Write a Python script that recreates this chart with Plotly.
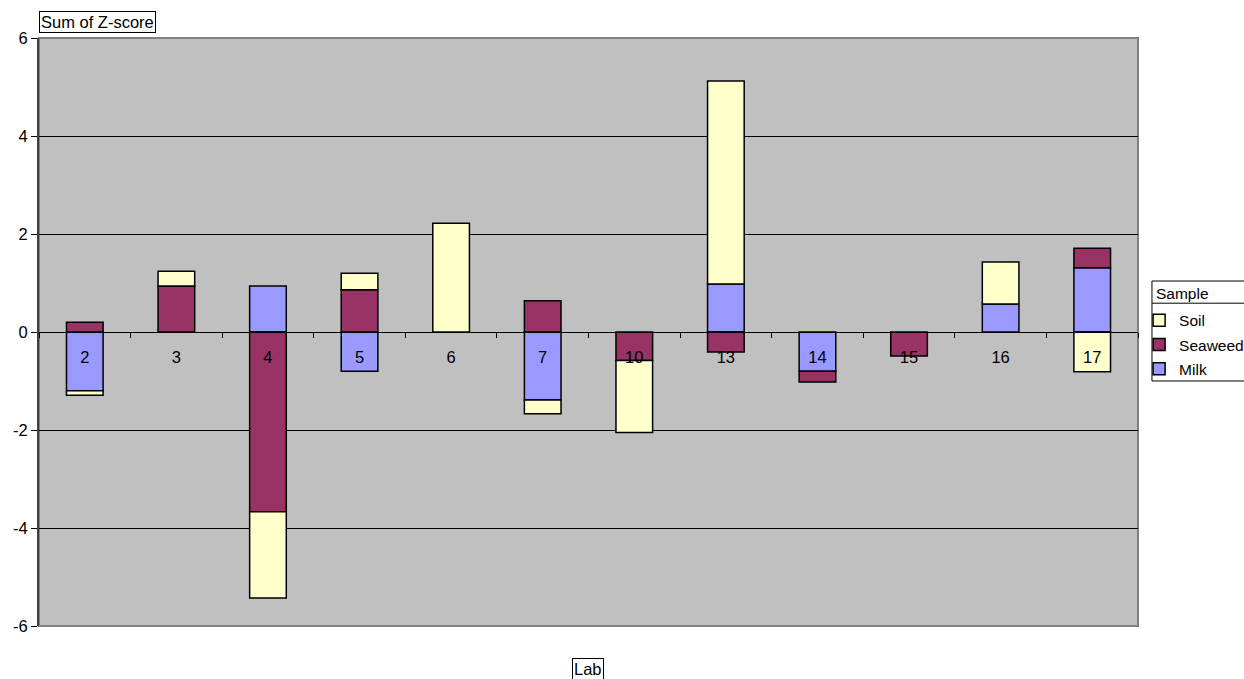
import plotly.graph_objects as go

# Sum of Z-scores per lab, split by sample type
labs = ["2", "3", "4", "5", "6", "7", "10", "13", "14", "15", "16", "17"]
milk = [-1.20, None, 0.94, -0.80, None, -1.39, None, 0.98, -0.80, None, 0.57, 1.31]
seaweed = [0.20, 0.94, -3.67, 0.86, None, 0.64, -0.58, -0.41, -0.22, -0.49, None, 0.40]
soil = [-0.09, 0.30, -1.76, 0.34, 2.22, -0.28, -1.47, 4.14, None, None, 0.86, -0.81]

y_ticks = [-6, -4, -2, 0, 2, 4, 6]
y_tick_text = ["-6", "-4", "-2", "0", "2", "4", "6"]

# (name, values, colour, legend rank) - stacked bottom-up, listed top-down
series = [
    ("Milk", milk, "#9999FF", 3),
    ("Seaweed", seaweed, "#993366", 2),
    ("Soil", soil, "#FFFFCC", 1),
]

FONT = "Arial, Liberation Sans, sans-serif"
FS = 16.5
LEG_FS = 15.5

fig = go.Figure()
for name, vals, color, rank in series:
    fig.add_trace(go.Bar(
        x=labs, y=vals, name=name, legendgroup=name, legendrank=rank,
        marker=dict(color=color, line=dict(color="black", width=1.5)),
        width=0.4,
    ))

# legend frame (box + divider under the "Sample" heading)
box_x0, box_x1 = 1.0127, 1.10
box_y0, box_y1 = 0.4167, 0.5867
title_line_y = 0.549

fig.update_layout(
    width=1244, height=679,
    margin=dict(l=39, r=106, t=38, b=53, autoexpand=False),
    barmode="relative",
    paper_bgcolor="white",
    plot_bgcolor="#C0C0C0",
    font=dict(family=FONT, size=FS, color="black"),
    showlegend=True,
    legend=dict(
        traceorder="grouped",
        tracegroupgap=1,
        x=1.001, xanchor="left", y=0.548, yanchor="top",
        bgcolor="rgba(0,0,0,0)", borderwidth=0,
        font=dict(size=LEG_FS),
        itemwidth=30,
        itemclick=False,
    ),
    xaxis=dict(
        type="category",
        anchor="free", position=0.5,
        showline=True, linecolor="black", linewidth=1,
        ticks="outside", tickson="boundaries", ticklen=5, tickcolor="black",
        ticklabelstandoff=10,
        showgrid=False,
        tickfont=dict(size=FS),
    ),
    yaxis=dict(
        range=[-6, 6],
        tickvals=y_ticks, ticktext=y_tick_text,
        showline=True, linecolor="#404040", linewidth=2,
        ticks="outside", ticklen=6, tickcolor="black",
        showgrid=True, gridcolor="black", gridwidth=1,
        zeroline=False,
        tickfont=dict(size=FS),
    ),
    shapes=[
        dict(type="rect", xref="paper", yref="paper", x0=0, x1=1, y0=0, y1=1,
             line=dict(color="#808080", width=2), layer="below"),
        dict(type="rect", xref="paper", yref="paper",
             x0=box_x0, x1=box_x1, y0=box_y0, y1=box_y1,
             fillcolor="white", line=dict(color="black", width=1), layer="above"),
        dict(type="line", xref="paper", yref="paper", x0=box_x0, x1=box_x1,
             y0=title_line_y, y1=title_line_y, line=dict(color="black", width=1)),
    ],
    annotations=[
        dict(text="Sum of Z-score", xref="paper", yref="paper", x=0, y=1.008,
             xanchor="left", yanchor="bottom", showarrow=False,
             bgcolor="white", bordercolor="black", borderwidth=1, borderpad=1,
             font=dict(size=FS)),
        dict(text="Lab", xref="paper", yref="paper", x=0.4995, y=-0.054,
             xanchor="center", yanchor="top", showarrow=False,
             bgcolor="white", bordercolor="black", borderwidth=1, borderpad=1,
             font=dict(size=FS)),
        dict(text="Sample", xref="paper", yref="paper", x=1.0145, y=0.5835,
             xanchor="left", yanchor="top", showarrow=False,
             font=dict(size=LEG_FS)),
    ],
)

fig.write_html("out.html")
